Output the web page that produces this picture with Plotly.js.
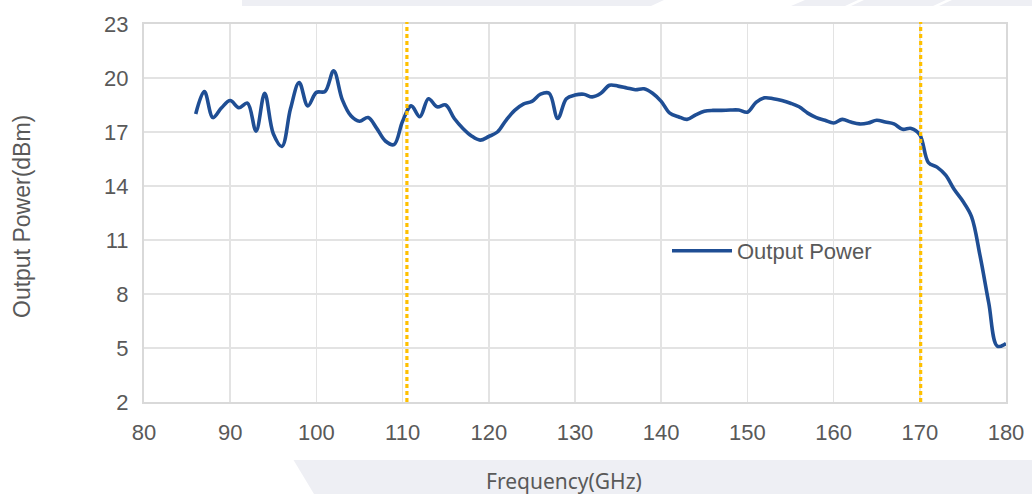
<!DOCTYPE html>
<html>
<head>
<meta charset="utf-8">
<script src="https://cdn.plot.ly/plotly-3.0.1.min.js"></script>
<style>
  html, body { margin: 0; padding: 0; background: #ffffff; }
  #chart { width: 1032px; height: 494px; }
</style>
</head>
<body>
<div id="chart"></div>
<script>
// ---- data ----
const frequencyGHz = [
  86, 87, 88, 89, 90, 91, 92, 93, 94, 95, 96, 97, 98, 99, 100,
  101, 102, 103, 104, 105, 106, 107, 108, 109, 110, 111, 112, 113, 114, 115,
  116, 117, 118, 119, 120, 121, 122, 123, 124, 125, 126, 127, 128, 129, 130,
  131, 132, 133, 134, 135, 136, 137, 138, 139, 140, 141, 142, 143, 144, 145,
  146, 147, 148, 149, 150, 151, 152, 153, 154, 155, 156, 157, 158, 159, 160,
  161, 162, 163, 164, 165, 166, 167, 168, 169, 170, 171, 172, 173, 174, 175,
  176, 177, 178, 179, 180
];
const outputPowerDBm = [
  18.0, 19.25, 17.8, 18.35, 18.75, 18.35, 18.6, 17.05, 19.15, 16.9, 16.2, 18.3, 19.75, 18.45, 19.2,
  19.25, 20.4, 18.8, 17.9, 17.6, 17.8, 17.2, 16.5, 16.3, 17.6, 18.45, 17.85, 18.85, 18.4, 18.5,
  17.75, 17.2, 16.78, 16.55, 16.75, 17.0, 17.65, 18.2, 18.55, 18.7, 19.1, 19.15, 17.75, 18.85, 19.05,
  19.1, 18.95, 19.15, 19.6, 19.55, 19.45, 19.35, 19.4, 19.15, 18.7, 18.05, 17.85, 17.7, 17.95, 18.15,
  18.2, 18.2, 18.22, 18.22, 18.1, 18.65, 18.9, 18.85, 18.75, 18.6, 18.4, 18.05, 17.8, 17.65, 17.5,
  17.7, 17.55, 17.45, 17.5, 17.65, 17.55, 17.45, 17.15, 17.2, 16.85, 15.3, 15.05, 14.6, 13.8, 13.15,
  12.3, 10.1, 7.5, 5.1, 5.25
];
const bandEdgesGHz = [110.5, 170.1];
const seriesName = 'Output Power';
const xTitle = 'Frequency(GHz)';
const yTitle = 'Output Power(dBm)';

// ---- layout geometry (pixels) ----
const W = 1032, H = 494;
const L = 144, R = 1006, T = 24, B = 402;
const pw = R - L, ph = B - T;
const px = x => (x - L) / pw;
const py = y => (B - y) / ph;
const poly = pts => 'M' + pts.map(p => px(p[0]) + ',' + py(p[1])).join('L') + 'Z';

const bandColor = '#eeeff4';
const decoShapes = [
  [[242,0],[664,0],[651,6],[242,6]],
  [[805,0],[858,0],[845,6],[791,6]],
  [[864,0],[946,0],[933,6],[851,6]],
  [[952,0],[1032,0],[1032,6],[939,6]],
  [[293.5,460],[1032,460],[1032,494],[314,494]]
].map(p => ({
  type: 'path', xref: 'paper', yref: 'paper', path: poly(p),
  fillcolor: bandColor, line: {width: 0}, layer: 'below'
}));

const bandLines = bandEdgesGHz.map(f => ({
  type: 'line', xref: 'x', yref: 'paper', x0: f, x1: f, y0: 0, y1: 1.005,
  line: {color: '#FFC000', width: 3.2, dash: '4px,3px'}, layer: 'above'
}));

const trace = {
  x: frequencyGHz, y: outputPowerDBm, name: seriesName,
  type: 'scatter', mode: 'lines',
  line: {color: '#1f4e94', width: 3.6, shape: 'spline', smoothing: 1},
  hoverinfo: 'x+y'
};

const axisFont = {family: 'Liberation Sans, Arial, sans-serif', size: 22, color: '#595959'};

const layout = {
  width: W, height: H,
  margin: {l: L, r: W - R, t: T, b: H - B, pad: 0},
  paper_bgcolor: '#ffffff', plot_bgcolor: '#ffffff',
  showlegend: true,
  legend: {
    x: px(667), y: py(251), xanchor: 'left', yanchor: 'middle',
    bgcolor: 'rgba(255,255,255,0)', borderwidth: 0,
    font: axisFont, itemwidth: 60
  },
  xaxis: {
    range: [80, 180], tick0: 80, dtick: 10,
    showgrid: true, gridcolor: '#e3e3e3', gridwidth: 1.5,
    showline: true, linecolor: '#d9d9d9', linewidth: 2, mirror: true,
    zeroline: false, ticks: '', tickfont: axisFont, ticklabelstandoff: 10,
    fixedrange: true
  },
  yaxis: {
    range: [2, 23], tick0: 2, dtick: 3,
    showgrid: true, gridcolor: '#e3e3e3', gridwidth: 1.5,
    showline: true, linecolor: '#d9d9d9', linewidth: 2, mirror: true,
    zeroline: false, ticks: '', tickfont: axisFont, ticklabelstandoff: 9,
    fixedrange: true
  },
  shapes: decoShapes.concat(bandLines),
  annotations: [
    {text: xTitle, xref: 'paper', yref: 'paper', x: px(564), y: py(481),
     xanchor: 'center', yanchor: 'middle', showarrow: false,
     font: {family: 'Noto Sans, sans-serif', size: 21, color: '#595959'}},
    {text: yTitle, xref: 'paper', yref: 'paper', x: px(22), y: py(217),
     xanchor: 'center', yanchor: 'middle', showarrow: false, textangle: -90,
     font: {family: 'Liberation Sans, Arial, sans-serif', size: 23, color: '#595959'}}
  ]
};

Plotly.newPlot('chart', [trace], layout, {displayModeBar: false, staticPlot: true});
</script>
</body>
</html>
